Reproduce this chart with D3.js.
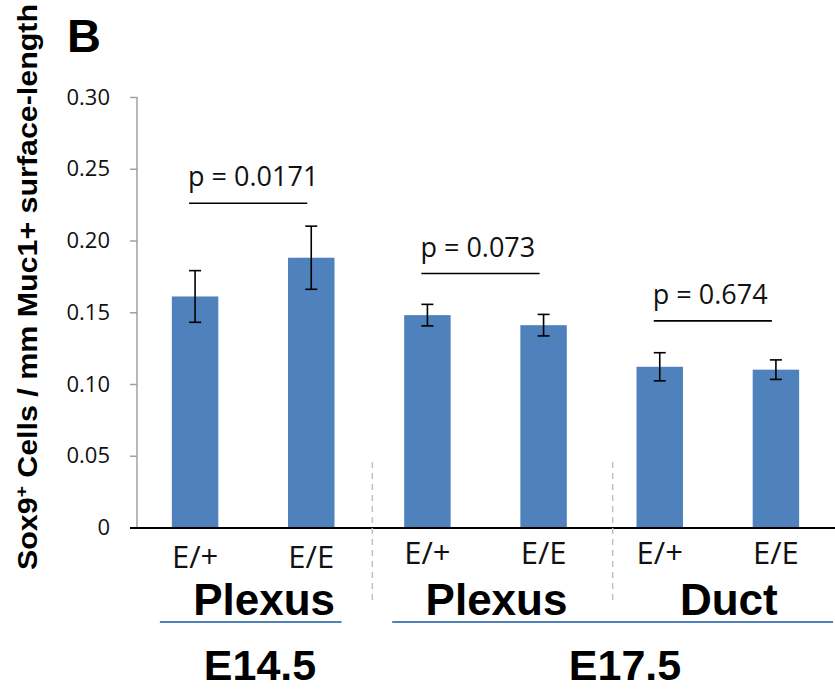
<!DOCTYPE html>
<html>
<head>
<meta charset="utf-8">
<script src="https://cdn.jsdelivr.net/npm/d3@7"></script>
<style>
  body { margin: 0; background: #fff; }
  svg { display: block; }
  .tick text { font-family: "Open Sans", "Noto Sans", sans-serif; }
  .bold { font-family: "Liberation Sans", Arial, sans-serif; font-weight: bold; }
</style>
</head>
<body>
<script>
// data
var genotypes = ['E/+', 'E/E', 'E/+', 'E/E', 'E/+', 'E/E'];
var means = [0.161, 0.188, 0.148, 0.141, 0.112, 0.110];
var errors = [0.018, 0.022, 0.0075, 0.0075, 0.0098, 0.0068];
var yTicks = [0, 0.05, 0.10, 0.15, 0.20, 0.25, 0.30];
var tissues = ['Plexus', 'Plexus', 'Duct'];
var tissueBars = [[0, 1], [2, 3], [4, 5]];
var stages = ['E14.5', 'E17.5'];
var stageBars = [[0, 1], [2, 5]];
var pLabels = ['p = 0.0171', 'p = 0.073', 'p = 0.674'];
var pLevels = [0.226, 0.177, 0.144];

var w = 835, h = 694;
var barColor = '#4f81bd';
var sans = '"Open Sans", "Noto Sans", sans-serif';

var svg = d3.select('body')
    .append('svg')
    .attr('width', w)
    .attr('height', h);

var idx = d3.range(means.length);
var x = d3.scaleBand()
    .domain(idx)
    .range([137, 834])
    .paddingInner(0.6)
    .paddingOuter(0.3);
var y = d3.scaleLinear()
    .domain([0, 0.30])
    .range([527.5, 97]);
var cx = function(i) { return x(i) + x.bandwidth() / 2; };

// y axis
var yAxis = svg.append('g')
    .attr('transform', 'translate(137,0)')
    .call(d3.axisLeft(y)
        .tickValues(yTicks)
        .tickSize(7)
        .tickPadding(20)
        .tickFormat(function(d) { return d === 0 ? '0' : d3.format('.2f')(d); }));
yAxis.select('.domain').attr('stroke', '#a0a0a0').attr('stroke-width', 1.5)
    .attr('d', 'M0,' + y(0.30) + 'V' + y(0));
yAxis.selectAll('.tick line').attr('stroke', '#a0a0a0').attr('stroke-width', 1.5);
yAxis.selectAll('.tick text').attr('font-size', 22).attr('fill', '#111');

// bars
svg.selectAll('rect.bar')
    .data(idx)
    .enter()
    .append('rect')
    .attr('class', 'bar')
    .attr('x', function(i) { return x(i); })
    .attr('width', x.bandwidth())
    .attr('y', function(i) { return y(means[i]); })
    .attr('height', function(i) { return y(0) - y(means[i]); })
    .attr('fill', barColor);

// error bars
var eb = svg.append('g').attr('stroke', '#000').attr('stroke-width', 1.6);
idx.forEach(function(i) {
    var hi = y(means[i] + errors[i]), lo = y(means[i] - errors[i]);
    eb.append('line').attr('x1', cx(i)).attr('x2', cx(i)).attr('y1', hi).attr('y2', lo);
    eb.append('line').attr('x1', cx(i) - 6).attr('x2', cx(i) + 6).attr('y1', hi).attr('y2', hi);
    eb.append('line').attr('x1', cx(i) - 6).attr('x2', cx(i) + 6).attr('y1', lo).attr('y2', lo);
});

// x axis line
svg.append('line')
    .attr('x1', 130).attr('x2', 835)
    .attr('y1', y(0) + 0.5).attr('y2', y(0) + 0.5)
    .attr('stroke', '#000').attr('stroke-width', 2);

// dashed separators (sit a little right of the gap centre)
[[1, 2, 3], [3, 4, 11]].forEach(function(p) {
    var sx = (cx(p[0]) + cx(p[1])) / 2 + p[2];
    svg.append('line')
        .attr('x1', sx).attr('x2', sx)
        .attr('y1', 462).attr('y2', 600)
        .attr('stroke', '#c0c0c0').attr('stroke-width', 1.5)
        .attr('stroke-dasharray', '6,5');
});

// p-value brackets
tissueBars.forEach(function(p, k) {
    var ly = y(pLevels[k]);
    svg.append('line')
        .attr('x1', cx(p[0]) - 6).attr('x2', cx(p[1]) - 4)
        .attr('y1', ly).attr('y2', ly)
        .attr('stroke', '#000').attr('stroke-width', 1.6);
    svg.append('text')
        .attr('x', cx(p[0]) - 7)
        .attr('y', ly - 17)
        .attr('font-family', sans)
        .attr('font-size', 27)
        .attr('fill', '#111')
        .text(pLabels[k]);
});

// genotype labels
svg.selectAll('text.geno')
    .data(idx)
    .enter()
    .append('text')
    .attr('class', 'geno')
    .attr('x', function(i) { return cx(i); })
    .attr('y', function(i) { return i < 2 ? 568 : 564; })
    .attr('text-anchor', 'middle')
    .attr('font-family', sans)
    .attr('font-size', 31)
    .attr('fill', '#111')
    .text(function(i) { return genotypes[i]; });

// tissue labels
tissues.forEach(function(t, k) {
    var p = tissueBars[k];
    svg.append('text')
        .attr('class', 'bold')
        .attr('x', (cx(p[0]) + cx(p[1])) / 2 + 11)
        .attr('y', 615)
        .attr('text-anchor', 'middle')
        .attr('font-size', 44)
        .text(t);
});

// stage underlines and labels
stageBars.forEach(function(p, k) {
    var x0 = x(p[0]) - 12, x1 = k === 0 ? x(p[1]) + x.bandwidth() + 7 : 833;
    svg.append('line')
        .attr('x1', x0).attr('x2', x1)
        .attr('y1', 622).attr('y2', 622)
        .attr('stroke', barColor).attr('stroke-width', 2);
    svg.append('text')
        .attr('class', 'bold')
        .attr('x', k === 0 ? 260 : 625)
        .attr('y', 680)
        .attr('text-anchor', 'middle')
        .attr('font-size', 43)
        .text(stages[k]);
});

// y title
var yt = svg.append('text')
    .attr('class', 'bold')
    .attr('transform', 'translate(37,570) rotate(-90)')
    .attr('font-size', 27)
    .attr('textLength', 566)
    .attr('lengthAdjust', 'spacingAndGlyphs');
yt.append('tspan').text('Sox9');
yt.append('tspan').attr('font-size', 17).attr('dy', -10).text('+');
yt.append('tspan').attr('dy', 10).text(' Cells / mm Muc1+ surface-length');

// panel letter
svg.append('text')
    .attr('class', 'bold')
    .attr('x', 67)
    .attr('y', 52)
    .attr('font-size', 47)
    .text('B');
</script>
</body>
</html>
